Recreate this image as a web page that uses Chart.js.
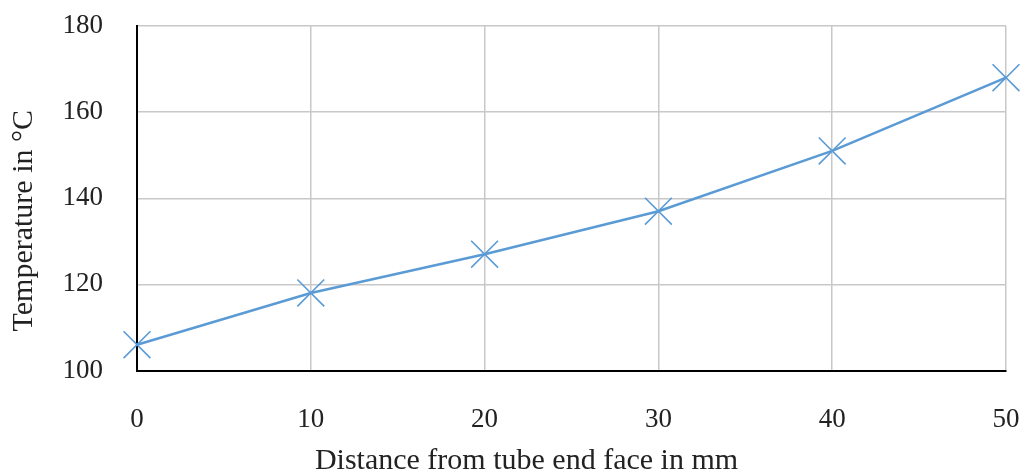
<!DOCTYPE html>
<html><head><meta charset="utf-8">
<script src="https://cdn.jsdelivr.net/npm/chart.js@4/dist/chart.umd.min.js"></script>
<style>html,body{margin:0;padding:0;background:#fff}#w{width:1023px;height:473px}</style>
</head><body><div id="w"><canvas id="c"></canvas></div>
<script>
const distances = [0, 10, 20, 30, 40, 50];
const temperatures = [106, 118, 127, 137, 151, 168];
const xTicks = [0, 10, 20, 30, 40, 50];
const yTicks = [100, 120, 140, 160, 180];
const xTitle = 'Distance from tube end face in mm';
const yTitle = 'Temperature in °C';

const FONT = '"Liberation Serif", "DejaVu Serif", serif';
const blue = '#5b9bd5';
// shift titles toward the canvas centre, as in the reference
const pad = n => '\u2002'.repeat(n);
new Chart(document.getElementById('c'), {
  type: 'line',
  data: {
    datasets: [{
      data: distances.map((d, i) => ({x: d, y: temperatures[i]})),
      borderColor: blue, backgroundColor: blue, borderWidth: 2.6,
      pointStyle: 'crossRot', pointRadius: 19, pointBorderWidth: 1.6,
      pointBorderColor: blue, tension: 0, fill: false, clip: false
    }]
  },
  options: {
    responsive: true, maintainAspectRatio: false, animation: false,
    layout: {autoPadding: false, padding: {top: 26, right: 17, left: 0, bottom: 0}},
    plugins: {legend: {display: false}, tooltip: {enabled: false}},
    scales: {
      x: {
        type: 'linear', min: 0, max: 50,
        afterBuildTicks: s => { s.ticks = xTicks.map(v => ({value: v})); },
        afterFit: s => { s.height = 102.5; s.paddingLeft = 0; s.paddingRight = 0; },
        grid: {color: '#c8c8c8', lineWidth: 1.5, drawTicks: false},
        border: {color: '#000', width: 2},
        ticks: {color: '#222', font: {family: FONT, size: 27}, padding: 33, maxRotation: 0},
        title: {display: true, text: xTitle + pad(6), color: '#222', font: {family: FONT, size: 30}, padding: {top: 0, bottom: -6}}
      },
      y: {
        min: 100, max: 180,
        afterBuildTicks: s => { s.ticks = yTicks.map(v => ({value: v})); },
        afterFit: s => { s.width = 137; s.paddingTop = 0; s.paddingBottom = 0; },
        grid: {color: '#c8c8c8', lineWidth: 1.5, drawTicks: false},
        border: {color: '#000', width: 2},
        ticks: {color: '#222', font: {family: FONT, size: 27}, padding: 34},
        title: {display: true, text: yTitle + pad(3), color: '#222', font: {family: FONT, size: 30}, padding: {top: 6, bottom: 0}}
      }
    }
  }
});
</script></body></html>
